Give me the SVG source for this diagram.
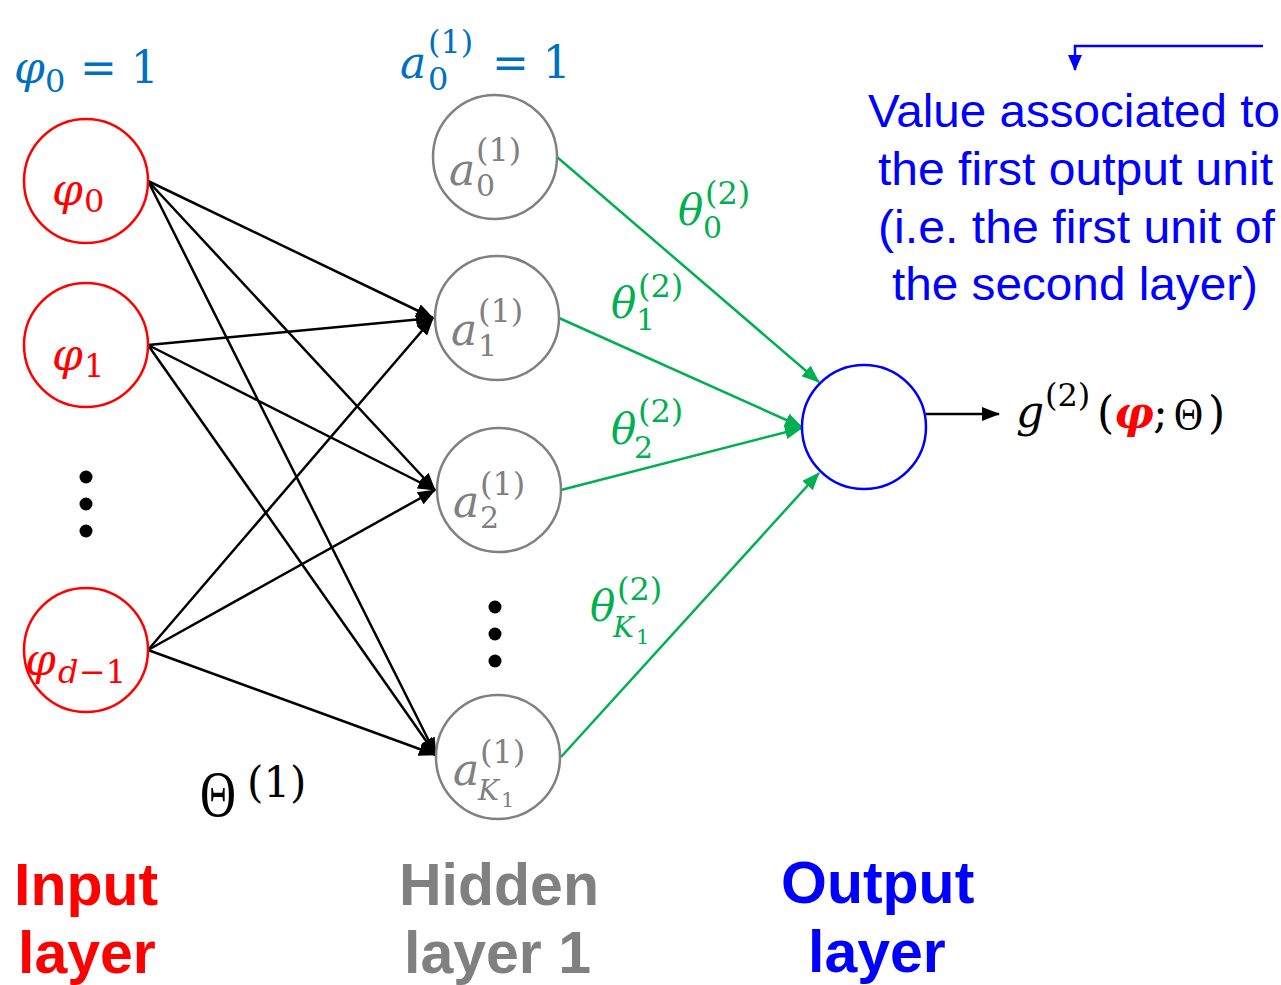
<svg xmlns="http://www.w3.org/2000/svg" width="1281" height="985" viewBox="0 0 1281 985">
  <defs>
    <marker id="arrow-black" markerUnits="userSpaceOnUse" markerWidth="18" markerHeight="14" refX="17" refY="7" orient="auto">
      <path d="M0,0 L18,7 L0,14 Z" fill="#000"/>
    </marker>
    <marker id="arrow-green" markerUnits="userSpaceOnUse" markerWidth="18" markerHeight="14" refX="17" refY="7" orient="auto">
      <path d="M0,0 L18,7 L0,14 Z" fill="#00B050"/>
    </marker>
    <marker id="arrow-blue" markerUnits="userSpaceOnUse" markerWidth="16" markerHeight="14" refX="15" refY="7" orient="auto">
      <path d="M0,0 L16,7 L0,14 Z" fill="#0000FF"/>
    </marker>
  </defs>
  <style>
    .in { fill: #fff; stroke: #FF0000; stroke-width: 2.5; }
    .hid { fill: #fff; stroke: #808080; stroke-width: 2.5; }
    .out { fill: #fff; stroke: #0000FF; stroke-width: 2.5; }
    .w1 { stroke: #000; stroke-width: 2.5; fill: none; marker-end: url(#arrow-black); }
    .w2 { stroke: #00B050; stroke-width: 2.5; fill: none; marker-end: url(#arrow-green); }
    .m { font-family: "DejaVu Serif", "Liberation Serif", serif; }
    .mi { font-family: "DejaVu Serif", "Liberation Serif", serif; font-style: italic; }
    .cap { font-family: "Liberation Serif", "DejaVu Serif", serif; }
    .red { fill: #FF0000; }
    .gray { fill: #808080; }
    .green { fill: #00B050; }
    .lblue { fill: #0070C0; }
    .layer { font-family: "Liberation Sans", Arial, sans-serif; font-weight: bold; font-size: 59px; }
    .note { font-family: "Liberation Sans", Arial, sans-serif; font-size: 46px; fill: #0000FF; }
    .dot { fill: #000; }
  </style>

  <!-- weighted connections -->
  <g id="connectors">
    <!-- input layer to hidden layer 1 -->
    <line class="w1" x1="148" y1="181" x2="433" y2="318"/>
    <line class="w1" x1="148" y1="181" x2="435" y2="490"/>
    <line class="w1" x1="148" y1="181" x2="436" y2="755"/>
    <line class="w1" x1="148" y1="345" x2="433" y2="318"/>
    <line class="w1" x1="148" y1="345" x2="435" y2="490"/>
    <line class="w1" x1="148" y1="345" x2="436" y2="755"/>
    <line class="w1" x1="148" y1="650" x2="433" y2="318"/>
    <line class="w1" x1="148" y1="650" x2="435" y2="490"/>
    <line class="w1" x1="148" y1="650" x2="436" y2="755"/>
    <!-- hidden layer 1 to output -->
    <line class="w2" x1="557" y1="157" x2="819" y2="382"/>
    <line class="w2" x1="559" y1="318" x2="802" y2="427"/>
    <line class="w2" x1="561" y1="490" x2="802" y2="428"/>
    <line class="w2" x1="561" y1="757" x2="819" y2="473"/>
    <!-- network output -->
    <line class="w1" x1="926" y1="414" x2="999" y2="414"/>
    <!-- note pointer -->
    <polyline points="1263,46 1075,46 1075,70" fill="none" stroke="#0000FF" stroke-width="2.5" marker-end="url(#arrow-blue)"/>
  </g>

  <!-- bias labels -->
  <g id="bias-input-label" class="lblue">
    <text class="mi" x="14" y="83" font-size="44">φ</text>
    <text class="m" x="45" y="92" font-size="32">0</text>
    <text class="m" x="80" y="83" font-size="44">= 1</text>
  </g>
  <g id="bias-hidden-label" class="lblue">
    <text class="mi" x="400" y="78" font-size="44">a</text>
    <text class="m" x="428" y="53" font-size="32">(1)</text>
    <text class="m" x="428" y="90" font-size="32">0</text>
    <text class="m" x="492" y="78" font-size="44">= 1</text>
  </g>

  <!-- input layer -->
  <g id="phi0">
    <circle class="in" cx="86" cy="181" r="62"/>
    <text class="mi red" x="52" y="205" font-size="44">φ</text>
    <text class="m red" x="84" y="212" font-size="32">0</text>
  </g>
  <g id="phi1">
    <circle class="in" cx="86" cy="345" r="62"/>
    <text class="mi red" x="52" y="370" font-size="44">φ</text>
    <text class="m red" x="84" y="377" font-size="32">1</text>
  </g>
  <g id="input-dots">
    <circle class="dot" cx="86" cy="477" r="6.5"/>
    <circle class="dot" cx="86" cy="504" r="6.5"/>
    <circle class="dot" cx="86" cy="531" r="6.5"/>
  </g>
  <g id="phi-d-1">
    <circle class="in" cx="86" cy="650" r="62"/>
    <text class="mi red" x="25" y="675" font-size="44">φ</text>
    <text class="mi red" x="58" y="683" font-size="32">d</text>
    <text class="m red" x="79" y="683" font-size="32">−1</text>
  </g>

  <!-- hidden layer 1 -->
  <g id="a0">
    <circle class="hid" cx="495" cy="157" r="62"/>
    <text class="mi gray" x="449" y="185" font-size="44">a</text>
    <text class="m gray" x="476" y="161" font-size="32">(1)</text>
    <text class="m gray" x="476" y="196" font-size="30">0</text>
  </g>
  <g id="a1">
    <circle class="hid" cx="497" cy="318" r="62"/>
    <text class="mi gray" x="451" y="345" font-size="44">a</text>
    <text class="m gray" x="478" y="322" font-size="32">(1)</text>
    <text class="m gray" x="478" y="356" font-size="30">1</text>
  </g>
  <g id="a2">
    <circle class="hid" cx="499" cy="490" r="62"/>
    <text class="mi gray" x="453" y="517" font-size="44">a</text>
    <text class="m gray" x="480" y="495" font-size="32">(1)</text>
    <text class="m gray" x="480" y="528" font-size="30">2</text>
  </g>
  <g id="hidden-dots">
    <circle class="dot" cx="495" cy="607" r="6.5"/>
    <circle class="dot" cx="495" cy="634" r="6.5"/>
    <circle class="dot" cx="495" cy="661" r="6.5"/>
  </g>
  <g id="aK1">
    <circle class="hid" cx="498" cy="757" r="62"/>
    <text class="mi gray" x="453" y="785" font-size="44">a</text>
    <text class="m gray" x="480" y="763" font-size="32">(1)</text>
    <text class="mi gray" x="478" y="800" font-size="28">K</text>
    <text class="m gray" x="501" y="807" font-size="21">1</text>
  </g>

  <!-- output layer -->
  <g id="output">
    <circle class="out" cx="864" cy="427" r="62"/>
  </g>
  <g id="output-label">
    <text class="mi" x="1016" y="427" font-size="44">g</text>
    <text class="m" x="1045" y="406" font-size="32">(2)</text>
    <text class="m" x="1097" y="428" font-size="44">(</text>
    <text class="mi red" x="1114" y="428" font-size="44" font-weight="bold">φ</text>
    <text class="m" x="1153" y="428" font-size="44">;</text>
    <text class="cap" x="1174" y="430" font-size="46" textLength="29" lengthAdjust="spacingAndGlyphs">Θ</text>
    <text class="m" x="1208" y="428" font-size="44">)</text>
  </g>

  <!-- weight labels -->
  <g id="theta0" class="green">
    <text class="mi" x="678" y="225" font-size="42">θ</text>
    <text class="m" x="705" y="204" font-size="32">(2)</text>
    <text class="m" x="703" y="238" font-size="30">0</text>
  </g>
  <g id="theta1" class="green">
    <text class="mi" x="611" y="318" font-size="42">θ</text>
    <text class="m" x="638" y="297" font-size="32">(2)</text>
    <text class="m" x="636" y="330" font-size="30">1</text>
  </g>
  <g id="theta2" class="green">
    <text class="mi" x="611" y="444" font-size="42">θ</text>
    <text class="m" x="638" y="422" font-size="32">(2)</text>
    <text class="m" x="634" y="458" font-size="30">2</text>
  </g>
  <g id="thetaK1" class="green">
    <text class="mi" x="590" y="621" font-size="42">θ</text>
    <text class="m" x="617" y="600" font-size="32">(2)</text>
    <text class="mi" x="613" y="637" font-size="28">K</text>
    <text class="m" x="636" y="644" font-size="21">1</text>
  </g>
  <g id="theta-layer1">
    <text class="cap" x="200" y="816" font-size="66" textLength="36" lengthAdjust="spacingAndGlyphs">Θ</text>
    <text class="m" x="247" y="797" font-size="42">(1)</text>
  </g>

  <!-- layer names -->
  <g id="input-layer-name">
    <text class="layer red" x="14" y="905">Input</text>
    <text class="layer red" x="18" y="973">layer</text>
  </g>
  <g id="hidden-layer-name">
    <text class="layer gray" x="399" y="905">Hidden</text>
    <text class="layer gray" x="404" y="973">layer 1</text>
  </g>
  <g id="output-layer-name">
    <text class="layer" fill="#0000FF" x="781" y="903">Output</text>
    <text class="layer" fill="#0000FF" x="808" y="972">layer</text>
  </g>

  <!-- annotation -->
  <g id="note">
    <text class="note" x="868" y="127" textLength="412" lengthAdjust="spacingAndGlyphs">Value associated to</text>
    <text class="note" x="878" y="185" textLength="395" lengthAdjust="spacingAndGlyphs">the first output unit</text>
    <text class="note" x="878" y="243" textLength="397" lengthAdjust="spacingAndGlyphs">(i.e. the first unit of</text>
    <text class="note" x="892" y="300" textLength="366" lengthAdjust="spacingAndGlyphs">the second layer)</text>
  </g>
</svg>
